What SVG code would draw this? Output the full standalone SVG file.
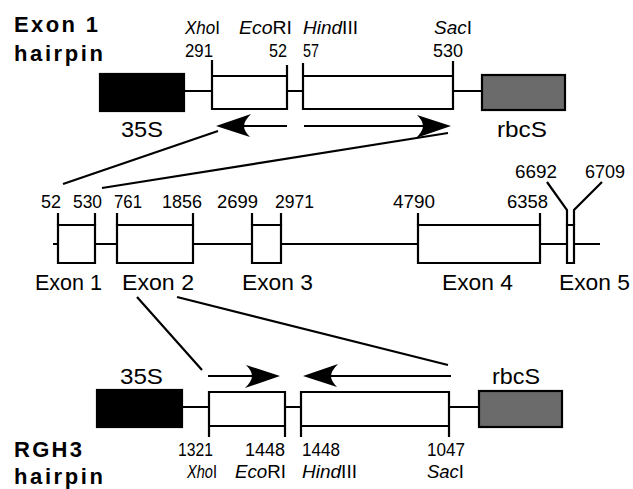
<svg xmlns="http://www.w3.org/2000/svg" xmlns:xlink="http://www.w3.org/1999/xlink" width="633" height="489" viewBox="0 0 633 489">
<style>
  text { font-family: "Liberation Sans", Arial, sans-serif; fill: #000; }
  .t { font-size: 22px; font-weight: bold; }
  .n { font-size: 19px; }
  .s { font-size: 18px; }
  .lb { font-size: 22px; }
  .i { font-style: italic; }
  .ln { stroke: #000; stroke-width: 2.2; fill: none; }
  .bx { stroke: #000; stroke-width: 2.2; fill: #fff; }
  .blk { stroke: #000; stroke-width: 2.2; fill: #000; }
  .gry { stroke: #000; stroke-width: 2.2; fill: #6b6b6b; }
</style>
<defs>
  <path id="ah" d="M0 0 L35 -12 Q28 -5 28 0 Q28 5 34 11 Z" fill="#000"/>
</defs>
<rect width="633" height="489" fill="#fff"/>

<!-- titles -->
<g id="title-top">
  <text class="t" x="14" y="32" textLength="84">Exon 1</text>
  <text class="t" x="14" y="61" textLength="89">hairpin</text>
</g>
<g id="title-bottom">
  <text class="t" x="14" y="457" textLength="68">RGH3</text>
  <text class="t" x="14" y="484" textLength="89">hairpin</text>
</g>

<!-- top construct -->
<g id="top-35S">
  <rect class="blk" x="100" y="74" width="84" height="37"/>
  <text class="lb" x="121" y="137" textLength="42" lengthAdjust="spacingAndGlyphs">35S</text>
</g>
<g id="top-frag1">
  <path class="ln" d="M212 60 V109 H287 V65 M212 76 H287"/>
  <text class="s i" x="185" y="34" textLength="35" lengthAdjust="spacingAndGlyphs">Xho<tspan font-style="normal">I</tspan></text>
  <text class="n" x="185" y="57" textLength="28" lengthAdjust="spacingAndGlyphs">291</text>
  <text class="s i" x="239" y="34" textLength="53" lengthAdjust="spacingAndGlyphs">Eco<tspan font-style="normal">RI</tspan></text>
  <text class="n" x="269" y="57" textLength="18" lengthAdjust="spacingAndGlyphs">52</text>
</g>
<g id="top-frag2">
  <path class="ln" d="M303 63 V109 H453 V61 M303 76 H453"/>
  <text class="s i" x="303" y="34" textLength="55" lengthAdjust="spacingAndGlyphs">Hind<tspan font-style="normal">III</tspan></text>
  <text class="n" x="303" y="57" textLength="16" lengthAdjust="spacingAndGlyphs">57</text>
  <text class="s i" x="434" y="34" textLength="38" lengthAdjust="spacingAndGlyphs">Sac<tspan font-style="normal">I</tspan></text>
  <text class="n" x="433" y="57" textLength="30" lengthAdjust="spacingAndGlyphs">530</text>
</g>
<g id="top-rbcS">
  <rect class="gry" x="482" y="75" width="83" height="35"/>
  <text class="lb" x="497" y="137" textLength="50" lengthAdjust="spacingAndGlyphs">rbcS</text>
</g>

<!-- middle gene -->
<g id="gene-line">
  <path class="ln" d="M53 244 H600"/>
</g>
<g id="exon1">
  <path class="bx" d="M58 225 H95 V263 H58 Z"/>
  <path class="ln" d="M58 213 V225 M95 213 V225"/>
  <text class="n" x="41" y="208" textLength="20" lengthAdjust="spacingAndGlyphs">52</text>
  <text class="n" x="73" y="208" textLength="29" lengthAdjust="spacingAndGlyphs">530</text>
  <text class="lb" x="35" y="290" textLength="67" lengthAdjust="spacingAndGlyphs">Exon 1</text>
</g>
<g id="exon2">
  <path class="bx" d="M117 225 H193 V263 H117 Z"/>
  <path class="ln" d="M117 213 V225 M193 213 V225"/>
  <text class="n" x="114" y="208" textLength="28" lengthAdjust="spacingAndGlyphs">761</text>
  <text class="n" x="162" y="208" textLength="40" lengthAdjust="spacingAndGlyphs">1856</text>
  <text class="lb" x="122" y="290" textLength="72" lengthAdjust="spacingAndGlyphs">Exon 2</text>
</g>
<g id="exon3">
  <path class="bx" d="M252 225 H281 V263 H252 Z"/>
  <path class="ln" d="M252 213 V225 M281 213 V225"/>
  <text class="n" x="217" y="208" textLength="41" lengthAdjust="spacingAndGlyphs">2699</text>
  <text class="n" x="275" y="208" textLength="39" lengthAdjust="spacingAndGlyphs">2971</text>
  <text class="lb" x="242" y="290" textLength="71" lengthAdjust="spacingAndGlyphs">Exon 3</text>
</g>
<g id="exon4">
  <path class="bx" d="M418 225 H540 V263 H418 Z"/>
  <path class="ln" d="M418 213 V225 M540 213 V225"/>
  <text class="n" x="393" y="208" textLength="42" lengthAdjust="spacingAndGlyphs">4790</text>
  <text class="n" x="507" y="208" textLength="41" lengthAdjust="spacingAndGlyphs">6358</text>
  <text class="lb" x="442" y="290" textLength="71" lengthAdjust="spacingAndGlyphs">Exon 4</text>
</g>
<g id="exon5">
  <path class="bx" d="M567 225 H574 V263 H567 Z"/>
  <path class="ln" d="M547 182 L567 210 V225 M602 182 L574 210 V225"/>
  <text class="n" x="515" y="178" textLength="42" lengthAdjust="spacingAndGlyphs">6692</text>
  <text class="n" x="585" y="178" textLength="40" lengthAdjust="spacingAndGlyphs">6709</text>
  <text class="lb" x="559" y="290" textLength="71" lengthAdjust="spacingAndGlyphs">Exon 5</text>
</g>

<!-- bottom construct -->
<g id="bot-35S">
  <rect class="blk" x="97" y="390" width="85" height="37"/>
  <text class="lb" x="120" y="384" textLength="43" lengthAdjust="spacingAndGlyphs">35S</text>
</g>
<g id="bot-frag1">
  <path class="ln" d="M209 437 V392 H285 V437 M209 426 H285"/>
  <text class="s" x="178" y="456" textLength="35" lengthAdjust="spacingAndGlyphs">1321</text>
  <text class="s i" x="187" y="478" textLength="30" lengthAdjust="spacingAndGlyphs">Xho<tspan font-style="normal">I</tspan></text>
  <text class="s" x="245" y="456" textLength="40" lengthAdjust="spacingAndGlyphs">1448</text>
  <text class="s i" x="235" y="478" textLength="51" lengthAdjust="spacingAndGlyphs">Eco<tspan font-style="normal">RI</tspan></text>
</g>
<g id="bot-frag2">
  <path class="ln" d="M301 437 V392 H449 V437 M301 426 H449"/>
  <text class="s" x="302" y="456" textLength="38" lengthAdjust="spacingAndGlyphs">1448</text>
  <text class="s i" x="302" y="478" textLength="55" lengthAdjust="spacingAndGlyphs">Hind<tspan font-style="normal">III</tspan></text>
  <text class="s" x="427" y="456" textLength="38" lengthAdjust="spacingAndGlyphs">1047</text>
  <text class="s i" x="427" y="478" textLength="37" lengthAdjust="spacingAndGlyphs">Sac<tspan font-style="normal">I</tspan></text>
</g>
<g id="bot-rbcS">
  <rect class="gry" x="479" y="391" width="83" height="36"/>
  <text class="lb" x="492" y="384" textLength="48" lengthAdjust="spacingAndGlyphs">rbcS</text>
</g>

<!-- connectors -->
<g id="connectors">
  <path class="ln" d="M184 91 H212 M287 91 H303 M453 91 H482"/>
  <path class="ln" d="M182 407 H209 M285 407 H301 M449 407 H479"/>
  <path class="ln" d="M218 131 L63 184 M448 133 L102 188"/>
  <path class="ln" d="M137 297 L202 370 M177 297 L448 365"/>
  <!-- arrows -->
  <path class="ln" d="M287 126 H240"/>
  <use xlink:href="#ah" transform="translate(216,126)"/>
  <path class="ln" d="M304 126 H425"/>
  <use xlink:href="#ah" transform="translate(451,126) rotate(180)"/>
  <path class="ln" d="M208 376 H255"/>
  <use xlink:href="#ah" transform="translate(280,376) rotate(180)"/>
  <path class="ln" d="M451 376 H328"/>
  <use xlink:href="#ah" transform="translate(303,376)"/>
</g>
</svg>
